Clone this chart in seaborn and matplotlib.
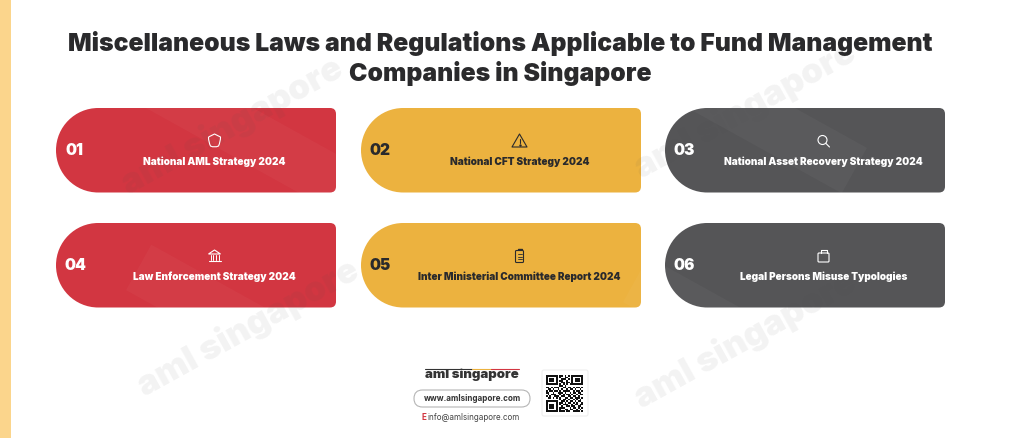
import numpy as np
import seaborn as sns
import matplotlib.pyplot as plt
from matplotlib.patches import PathPatch, Rectangle, FancyBboxPatch, Circle, Polygon
from matplotlib.path import Path

# card contents
numbers = ["01", "02", "03", "04", "05", "06"]
labels = [
    "National AML Strategy 2024",
    "National CFT Strategy 2024",
    "National Asset Recovery Strategy 2024",
    "Law Enforcement Strategy 2024",
    "Inter Ministerial Committee Report 2024",
    "Legal Persons Misuse Typologies",
]
icons = ["shield", "triangle", "search", "bank", "clipboard", "bag"]
title = "Miscellaneous Laws and Regulations Applicable to Fund Management\nCompanies in Singapore"
watermark = "aml singapore"
brand = "aml singapore"
website = "www.amlsingapore.com"
email = "info@amlsingapore.com"

# the code in the footer
qr_rows = [
    "1111111011010101111111",
    "1000001010011001000001",
    "1011101001110101011101",
    "1011101011001001011101",
    "1000001001101101000001",
    "1111111010101011111111",
    "0000000011010000000000",
    "1101011100110110101101",
    "0110100101001011010010",
    "1011011010111100101101",
    "1100100111010010110110",
    "0101110010101101001011",
    "1010011101100110110100",
    "0110101010011011011101",
    "0000000010110100101010",
    "1111111001101011010110",
    "1000001011010110101001",
    "1011101010111001011011",
    "1011101001001101100110",
    "1011101011100010110101",
    "1000001010011011001010",
    "1111111011101100111101",
]

sns.set_theme(style="white")
plt.rcParams['font.family'] = ['Inter', 'DejaVu Sans']

RED = "#d23641"
YELLOW = "#ecb23f"
GREY = "#555557"
DARK = "#2a2a2c"

fig = plt.figure(figsize=(10.24, 4.38), dpi=100)
ax = fig.add_axes([0, 0, 1, 1])
ax.set_xlim(0, 1024)
ax.set_ylim(438, 0)
ax.axis("off")

# strip on the left edge
ax.add_patch(Rectangle((0, 0), 11, 438, color="#fbd58c", lw=0))


def card_path(x0, y0, x1, y1):
    # big round left end, small corners on the right
    r = (y1 - y0) / 2
    c = 0.5523 * r
    s = 6
    verts = [
        (x0 + r, y0), (x1 - s, y0), (x1, y0), (x1, y0 + s),
        (x1, y1 - s), (x1, y1), (x1 - s, y1),
        (x0 + r, y1), (x0 + r - c, y1), (x0, y0 + r + c), (x0, y0 + r),
        (x0, y0 + r - c), (x0 + r - c, y0), (x0 + r, y0),
    ]
    codes = [Path.MOVETO, Path.LINETO, Path.CURVE3, Path.CURVE3,
             Path.LINETO, Path.CURVE3, Path.CURVE3,
             Path.LINETO, Path.CURVE4, Path.CURVE4, Path.CURVE4,
             Path.CURVE4, Path.CURVE4, Path.CURVE4]
    return Path(verts, codes)


def draw_icon(name, cx, cy, col):
    kw = dict(fill=False, ec=col, lw=0.8, zorder=6)
    if name == "shield":
        ax.add_patch(PathPatch(Path(
            [(cx - 6, cy - 4), (cx, cy - 7), (cx + 6, cy - 4), (cx + 6, cy + 1),
             (cx + 4, cy + 5), (cx, cy + 7), (cx - 4, cy + 5), (cx - 6, cy + 1), (cx - 6, cy - 4)],
            [Path.MOVETO, Path.LINETO, Path.LINETO, Path.CURVE3, Path.CURVE3,
             Path.CURVE3, Path.CURVE3, Path.CURVE3, Path.CURVE3]), **kw))
    elif name == "triangle":
        ax.add_patch(Polygon([(cx, cy - 7), (cx + 7.5, cy + 6), (cx - 7.5, cy + 6)], joinstyle="round", **kw))
        ax.plot([cx, cx], [cy - 2, cy + 2], color=col, lw=0.8, zorder=6)
        ax.plot([cx], [cy + 4], marker=".", ms=1.5, color=col, zorder=6)
    elif name == "search":
        ax.add_patch(Circle((cx - 1, cy - 1), 4.5, **kw))
        ax.plot([cx + 2.3, cx + 6], [cy + 2.3, cy + 6], color=col, lw=0.8, zorder=6)
    elif name == "bank":
        ax.add_patch(Polygon([(cx, cy - 6), (cx + 6, cy - 2), (cx - 6, cy - 2)], **kw))
        for dx in (-4, -1.3, 1.3, 4):
            ax.plot([cx + dx, cx + dx], [cy - 1, cy + 4], color=col, lw=0.7, zorder=6)
        ax.plot([cx - 6, cx + 6], [cy + 5, cy + 5], color=col, lw=0.8, zorder=6)
    elif name == "clipboard":
        ax.add_patch(FancyBboxPatch((cx - 4, cy - 5.5), 8, 12, boxstyle="round,pad=0,rounding_size=1", **kw))
        ax.plot([cx - 2, cx + 2], [cy - 7, cy - 7], color=col, lw=1.0, zorder=6)
        for dy in (-2, 0.5, 3):
            ax.plot([cx - 2, cx + 2], [cy + dy, cy + dy], color=col, lw=0.6, zorder=6)
    elif name == "bag":
        ax.add_patch(FancyBboxPatch((cx - 5.5, cy - 3), 11, 9, boxstyle="round,pad=0,rounding_size=1", **kw))
        ax.plot([cx - 3, cx - 3, cx + 3, cx + 3], [cy - 3, cy - 6.5, cy - 6.5, cy - 3], color=col, lw=0.8, zorder=6)


card_colors = [RED, YELLOW, GREY]
text_colors = ["white", DARK, "white"]
col_left = [56, 361, 665]
col_width = 280
row_top = [108, 223]
row_height = 84.5

for i, (num, lab, ico) in enumerate(zip(numbers, labels, icons)):
    row, col = i // 3, i % 3
    x0 = col_left[col]
    y0 = row_top[row]
    x1 = x0 + col_width
    y1 = y0 + row_height
    tc = text_colors[col]
    ax.add_patch(PathPatch(card_path(x0, y0, x1, y1), fc=card_colors[col], ec="none", zorder=2))
    ax.text(x0 + 19, y0 + 42.5, num, color=tc, fontsize=11.2, fontweight="black", ha="center", va="center", zorder=6)
    ax.text(x0 + 158.5, y0 + 53.5, lab, color=tc, fontsize=7.2, fontweight="black", ha="center", va="center", zorder=6)
    draw_icon(ico, x0 + 158.5, y0 + 33, tc)

# faint watermarks over everything
for wx, wy in [(232, 126), (745, 110), (248, 328), (745, 340)]:
    ax.add_patch(Rectangle((wx - 125, wy - 26), 250, 52, angle=29, rotation_point="center",
                           fc="white", alpha=0.03, lw=0, zorder=3))
    ax.text(wx, wy, watermark, rotation=29, rotation_mode="anchor", fontsize=25, fontweight="black",
            color="#505050", alpha=0.07, ha="center", va="center", zorder=5)

ax.text(500, 59, title, color=DARK, fontsize=17.8, fontweight="black", ha="center", va="center",
        linespacing=1.25, zorder=6)

# footer
ax.text(472, 375, brand, color="#333333", fontsize=9.5, fontweight="black", ha="center", va="center")
ax.plot([425, 472], [369, 369], color="#333333", lw=0.8)
ax.plot([472, 491], [369, 369], color=YELLOW, lw=0.8)
ax.plot([491, 519], [369, 369], color=RED, lw=0.8)
ax.add_patch(FancyBboxPatch((414, 390), 116, 17, boxstyle="round,pad=0,rounding_size=8.5",
                            fc="white", ec="#b5b5b5", lw=0.8))
ax.text(472, 398.5, website, color="#333333", fontsize=5.8, fontweight="bold", ha="center", va="center")
ax.text(422, 417, "E", color=RED, fontsize=5.8, fontweight="bold", ha="left", va="center")
ax.text(428, 417, email, color="#444444", fontsize=5.8, ha="left", va="center")

ax.add_patch(FancyBboxPatch((542, 370), 46, 46, boxstyle="round,pad=0,rounding_size=2",
                            fc="white", ec="#eeeeee", lw=0.8))
qr = np.array([[int(c) for c in r] for r in qr_rows])
qr_ax = fig.add_axes([546 / 1024, 1 - 412 / 438, 37 / 1024, 37 / 438])
sns.heatmap(qr, ax=qr_ax, cmap=["white", "#111111"], cbar=False, xticklabels=False, yticklabels=False)

fig.savefig("out.png", dpi=100)
